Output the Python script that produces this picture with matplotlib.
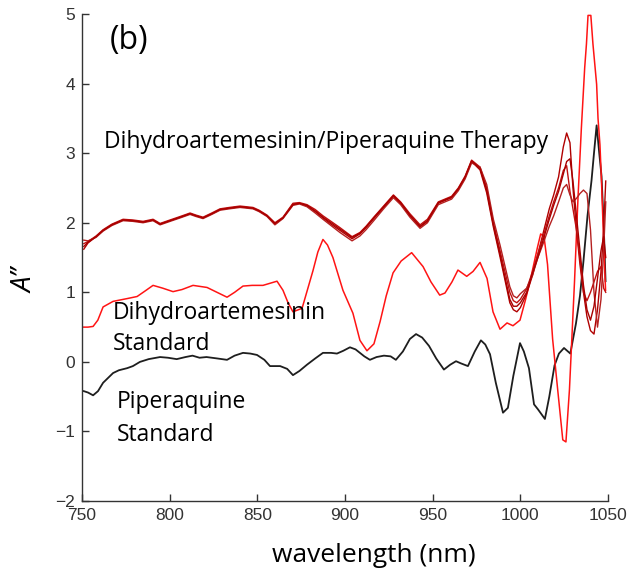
import numpy as np
import matplotlib
matplotlib.use("Agg")
import matplotlib.pyplot as plt

# -------------------------------
# Second-derivative spectra
# -------------------------------
# Piperaquine standard (black)
pip_nm = [751, 753.4, 756.3, 759.1, 762, 767.7, 771, 775.7, 779, 783, 788, 794.5, 799,
          804, 809, 813, 817, 821, 827, 832.7, 837, 841.8, 846, 849.8, 854, 857.2, 863,
          867, 870.3, 874, 878.3, 883, 887.4, 892, 895.4, 899, 902.8, 906, 908.5, 911,
          914.2, 918, 922.2, 926, 929, 933, 937, 940.5, 944, 947.9, 952, 956.4, 960,
          963.3, 966, 970.1, 974, 977.5, 980, 982.7, 986, 990.1, 992.9, 996, 999.8,
          1002, 1004.9, 1007.8, 1010, 1014, 1016.5, 1019.5, 1022, 1024.9, 1028.5,
          1031.7, 1034, 1036, 1038.3, 1040.6, 1042, 1043.5, 1045, 1046.3, 1047.5, 1048.6]
pip_val = [-0.42, -0.44, -0.48, -0.42, -0.3, -0.16, -0.12, -0.09, -0.06, 0.0, 0.04, 0.07, 0.06,
           0.04, 0.07, 0.09, 0.06, 0.07, 0.05, 0.03, 0.09, 0.13, 0.12, 0.1, 0.03, -0.06, -0.06,
           -0.1, -0.19, -0.13, -0.04, 0.05, 0.13, 0.13, 0.12, 0.16, 0.21, 0.18, 0.13, 0.08,
           0.03, 0.07, 0.09, 0.08, 0.03, 0.15, 0.33, 0.4, 0.35, 0.23, 0.05, -0.11, -0.04,
           0.01, -0.02, -0.06, 0.15, 0.31, 0.25, 0.11, -0.3, -0.73, -0.66, -0.2, 0.27,
           0.15, -0.09, -0.61, -0.68, -0.82, -0.5, -0.05, 0.12, 0.2, 0.12,
           0.55, 0.95, 1.45, 2.1, 2.61, 3.0, 3.4, 3.0, 2.67, 2.0, 1.16]

# Dihydroartemesinin standard (bright red)
dha_nm = [751, 753.4, 756.3, 759, 762, 767.7, 775.7, 781.4, 786, 790.5, 796, 801.9, 807,
          813.3, 821.3, 827, 832.7, 837, 841.8, 847, 853.2, 861.2, 864.6, 867.5, 870.3,
          875.5, 881.7, 884.5, 887.4, 890, 893.1, 898.8, 904.5, 908.5, 912.5, 916.5, 920,
          923.5, 927.4, 932, 938, 944.5, 949, 954, 957, 961, 964.4, 969.4, 973, 977, 981,
          984.4, 988.4, 992.4, 995.8, 999.8, 1003, 1005.9, 1009.7, 1011.6, 1013.5, 1015.5,
          1018.4, 1021.3, 1024.2, 1026, 1028, 1030.9, 1032.9, 1034.8, 1036.7, 1037.7,
          1038.6, 1040.2, 1041.4, 1043.5, 1044.3, 1045.4, 1046.3, 1047.7, 1048.6]
dha_val = [0.5, 0.5, 0.51, 0.6, 0.79, 0.87, 0.91, 0.94, 1.02, 1.1, 1.06, 1.01, 1.04,
           1.1, 1.07, 1.0, 0.93, 1.0, 1.09, 1.1, 1.1, 1.16, 1.03, 0.85, 0.72,
           0.77, 1.31, 1.58, 1.76, 1.68, 1.5, 1.03, 0.7, 0.31, 0.16, 0.26, 0.58,
           0.95, 1.28, 1.45, 1.57, 1.37, 1.15, 0.96, 0.99, 1.15, 1.32, 1.23, 1.3, 1.43, 1.2,
           0.72, 0.47, 0.56, 0.52, 0.6, 0.9, 1.2, 1.64, 1.84, 1.8, 1.4,
           0.33, -0.4, -1.12, -1.15, -0.4, 1.16, 2.37, 3.36, 4.23, 4.57,
           4.98, 4.98, 4.57, 3.99, 3.5, 3.12, 2.58, 1.6, 1.03]

# Dihydroartemesinin/Piperaquine therapy (dark red, four spectra)
thr_nm = [751, 753.4, 758, 762, 767, 773.4, 779, 784.8, 790.5, 794.5, 800.2, 806, 811.6,
          815, 819, 824, 828.7, 834, 840.1, 847.5, 851, 855.5, 860, 864.6, 870.3, 874,
          878.3, 883, 887.4, 892, 897.1, 904, 908.5, 912, 916.4, 922, 927.6, 931.7, 937,
          942.8, 947, 953.2, 957, 960.8, 964.6, 968.5, 972.2, 977, 980.8, 984.6, 988.4,
          991.2, 994, 996, 998, 1000, 1003.6, 1007, 1010, 1013, 1016.5, 1019, 1021.8,
          1024.5, 1026.4, 1028.3, 1030, 1032, 1034, 1036, 1038, 1040, 1042, 1044, 1046,
          1047.5, 1048.7]
thr_1 = [1.62, 1.71, 1.8, 1.89, 1.97, 2.04, 2.03, 2.01, 2.04, 1.98, 2.03, 2.08, 2.13,
         2.1, 2.07, 2.13, 2.19, 2.21, 2.23, 2.21, 2.17, 2.1, 1.98, 2.07, 2.27, 2.28,
         2.24, 2.16, 2.07, 1.98, 1.89, 1.77, 1.84, 1.93, 2.06, 2.22, 2.38, 2.28, 2.1,
         1.94, 2.02, 2.28, 2.32, 2.36, 2.48, 2.65, 2.88, 2.76, 2.43, 1.94, 1.51,
         1.18, 0.85, 0.75, 0.72, 0.78, 0.98, 1.25, 1.55, 1.85, 2.2, 2.4, 2.66,
         3.09, 3.29, 3.15, 2.5, 1.9, 1.4, 1.0, 0.65, 0.45, 0.4, 0.75, 1.3,
         1.9, 2.6]
thr_2 = [1.7, 1.73, 1.81, 1.9, 1.98, 2.05, 2.04, 2.02, 2.05, 1.99, 2.04, 2.09, 2.14,
         2.11, 2.08, 2.14, 2.2, 2.22, 2.24, 2.22, 2.18, 2.11, 2.0, 2.08, 2.28, 2.29,
         2.26, 2.19, 2.1, 2.02, 1.93, 1.8, 1.86, 1.95, 2.08, 2.24, 2.4, 2.3, 2.13,
         1.97, 2.05, 2.3, 2.34, 2.38, 2.5, 2.67, 2.9, 2.8, 2.5, 2.0, 1.6,
         1.3, 1.0, 0.88, 0.85, 0.9, 1.05, 1.3, 1.55, 1.8, 2.1, 2.3, 2.5,
         2.75, 2.82, 2.45, 2.2, 1.9, 1.5, 1.0, 0.88, 1.0, 1.15, 1.3, 1.37,
         1.06, 1.0]
thr_3 = [1.75, 1.74, 1.79, 1.88, 1.96, 2.03, 2.02, 2.0, 2.03, 1.97, 2.02, 2.07, 2.12,
         2.09, 2.06, 2.12, 2.18, 2.2, 2.22, 2.2, 2.16, 2.09, 1.97, 2.06, 2.25, 2.27,
         2.23, 2.14, 2.05, 1.96, 1.86, 1.74, 1.81, 1.9, 2.03, 2.2, 2.36, 2.26, 2.08,
         1.92, 2.0, 2.26, 2.3, 2.34, 2.46, 2.63, 2.86, 2.8, 2.55, 2.05, 1.68,
         1.38, 1.08, 0.95, 0.92, 0.98, 1.06, 1.25, 1.5, 1.7, 1.95, 2.1, 2.3,
         2.5, 2.55, 2.4, 2.3, 2.35, 2.42, 2.47, 2.42, 1.9, 1.0, 0.5, 0.9,
         1.6, 2.3]
thr_4 = [1.66, 1.72, 1.8, 1.89, 1.97, 2.04, 2.03, 2.01, 2.04, 1.98, 2.03, 2.08, 2.13,
         2.1, 2.07, 2.13, 2.19, 2.21, 2.23, 2.21, 2.17, 2.1, 1.99, 2.07, 2.26, 2.28,
         2.25, 2.17, 2.08, 2.0, 1.91, 1.79, 1.85, 1.94, 2.07, 2.23, 2.39, 2.29, 2.11,
         1.95, 2.03, 2.29, 2.33, 2.37, 2.49, 2.66, 2.89, 2.78, 2.47, 1.97, 1.55,
         1.22, 0.9, 0.8, 0.8, 0.85, 1.0, 1.28, 1.5, 1.75, 2.05, 2.25, 2.45,
         2.7, 2.88, 2.92, 2.6, 2.1, 1.6, 1.1, 0.75, 0.6, 0.8, 1.2, 1.6,
         1.8, 1.5]

x_ticks = [750, 800, 850, 900, 950, 1000, 1050]
y_ticks = [-2, -1, 0, 1, 2, 3, 4, 5]

# -------------------------------
# Plot
# -------------------------------
label_font = "Open Sans"
tick_font = "Liberation Sans"

fig = plt.figure(figsize=(6.36, 5.72), dpi=100)
ax = fig.add_axes([0.129, 0.124, 0.827, 0.8515])

ax.plot(pip_nm, pip_val, color="#1e1e1e", lw=1.3)
ax.plot(dha_nm, dha_val, color="#ff1414", lw=1.1)
ax.plot(thr_nm, thr_1, color="#b00000", lw=1.0)
ax.plot(thr_nm, thr_2, color="#c01010", lw=1.0)
ax.plot(thr_nm, thr_3, color="#b52020", lw=1.0)
ax.plot(thr_nm, thr_4, color="#a80000", lw=1.0)

ax.set_xlim(750, 1050)
ax.set_ylim(-2, 5)
ax.set_xticks(x_ticks)
ax.set_yticks(y_ticks)
ax.spines["top"].set_visible(False)
ax.spines["right"].set_visible(False)
for s in ["left", "bottom"]:
    ax.spines[s].set_color("#333333")
    ax.spines[s].set_linewidth(1.0)
ax.tick_params(direction="in", length=5, width=1, colors="#333333", labelsize=12.5, pad=5)
for lab in ax.get_xticklabels() + ax.get_yticklabels():
    lab.set_family(tick_font)

# annotations
ax.text(766, 4.49, "(b)", fontsize=23, family=label_font, va="baseline")
ax.text(762.5, 3.07, "Dihydroartemesinin/Piperaquine Therapy", fontsize=16.5,
        family=label_font, va="baseline")
ax.text(767.5, 0.62, "Dihydroartemesinin", fontsize=16.5, family=label_font, va="baseline")
ax.text(767.5, 0.17, "Standard", fontsize=16.5, family=label_font, va="baseline")
ax.text(770, -0.66, "Piperaquine", fontsize=16.5, family=label_font, va="baseline")
ax.text(770, -1.135, "Standard", fontsize=16.5, family=label_font, va="baseline")

fig.text(374 / 636, 1 - 562 / 572, "wavelength (nm)", fontsize=19, family=label_font,
         ha="center", va="baseline")
fig.text(26 / 636, 1 - 281 / 572, "A\u2019\u2019", fontsize=20, family=label_font,
         style="italic", rotation=90, ha="center", va="center")

fig.savefig("out.png", dpi=100)
